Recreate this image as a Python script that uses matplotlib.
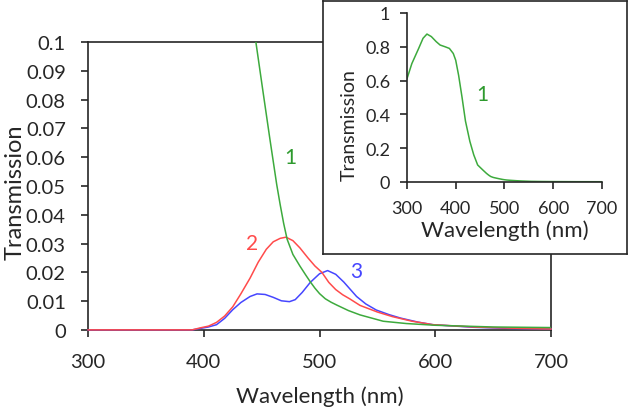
import numpy as np
import matplotlib
matplotlib.use("Agg")
import matplotlib.pyplot as plt
from matplotlib.ticker import FuncFormatter

plt.rcParams['font.family'] = ['Lato', 'DejaVu Sans']

# sample 1 (green), read over the full range (inset and main plot)
wl_1 = [300, 310, 324, 333, 341, 350, 360, 368, 378, 387, 395, 400, 406,
        413, 420, 429, 437, 445, 451, 457, 463, 466, 469, 472, 477, 483,
        488, 492, 496, 500, 505, 510, 515, 525, 535, 555, 575, 600, 650, 700]
tr_1 = [0.61, 0.70, 0.79, 0.85, 0.875, 0.86, 0.83, 0.81, 0.80, 0.79, 0.76,
        0.72, 0.63, 0.50, 0.36, 0.24, 0.16, 0.10, 0.0832, 0.0666, 0.0505,
        0.0435, 0.037, 0.0315, 0.0262, 0.0222, 0.0191, 0.0167, 0.0145,
        0.0126, 0.0108, 0.0096, 0.0086, 0.0067, 0.0052, 0.003, 0.0022,
        0.0016, 0.001, 0.0008]

# sample 2 (red)
wl_2 = [300, 390, 397, 404, 411, 418, 425, 432, 440, 447, 454, 460, 466,
        471, 477, 483, 490, 496, 502, 508, 514, 520, 526, 535, 550, 563,
        580, 598, 633, 665, 700]
tr_2 = [0, 0, 0.0007, 0.0013, 0.0026, 0.0048, 0.008, 0.0125, 0.018, 0.0235,
        0.028, 0.0306, 0.0318, 0.0322, 0.031, 0.0285, 0.025, 0.0222, 0.020,
        0.0165, 0.014, 0.0122, 0.0108, 0.0085, 0.0062, 0.0046, 0.003,
        0.0018, 0.001, 0.0006, 0.0003]

# sample 3 (blue)
wl_3 = [300, 390, 397, 404, 411, 418, 425, 432, 440, 446, 453, 460, 467,
        474, 479, 485, 492, 500, 507, 514, 521, 532, 540, 549, 560, 570,
        585, 598, 633, 665, 700]
tr_3 = [0, 0, 0.0005, 0.001, 0.0018, 0.004, 0.007, 0.0095, 0.0116, 0.0125,
        0.0123, 0.0113, 0.0101, 0.0098, 0.0105, 0.013, 0.0165, 0.0195,
        0.0206, 0.0193, 0.0166, 0.0116, 0.009, 0.0069, 0.0053, 0.0041,
        0.0027, 0.0018, 0.0009, 0.0005, 0.0003]

main_yticks = [0, 0.01, 0.02, 0.03, 0.04, 0.05, 0.06, 0.07, 0.08, 0.09, 0.1]
inset_yticks = [0, 0.2, 0.4, 0.6, 0.8, 1]
xticks = [300, 400, 500, 600, 700]

green = '#3daa3d'
red = '#ff4b4b'
blue = '#4646ff'
dark = '#262626'


def trim(v, pos):
    return ('%g' % v)


def style_axes(ax, size, pad):
    for s in ax.spines.values():
        s.set_color(dark)
        s.set_linewidth(1.2)
    ax.tick_params(direction='out', length=5, width=1.2, colors=dark,
                   labelsize=size, pad=pad)
    ax.yaxis.set_major_formatter(FuncFormatter(trim))


fig = plt.figure(figsize=(6.29, 4.10), dpi=100)

# main plot
ax = fig.add_axes([0.140, 0.193, 0.736, 0.702])
ax.plot(wl_3, tr_3, color=blue, lw=1.1, zorder=3, clip_on=False)
ax.plot(wl_2, tr_2, color=red, lw=1.1, zorder=3, clip_on=False)
ax.plot(wl_1, tr_1, color=green, lw=1.1, zorder=3)
ax.set_xlim(300, 700)
ax.set_ylim(0, 0.1)
ax.set_xticks(xticks)
ax.set_yticks(main_yticks)
style_axes(ax, 14.5, 11)
ax.tick_params(axis='x', pad=12)
ax.set_xlabel('Wavelength (nm)', fontsize=16, color=dark)
ax.xaxis.set_label_coords(0.5, -0.192)
ax.set_ylabel('Transmission', fontsize=17, color=dark)
ax.yaxis.set_label_coords(-0.135, 0.48)
ax.text(475, 0.060, '1', color='#2e9a2e', fontsize=15, ha='center', va='center')
ax.text(442, 0.0302, '2', color=red, fontsize=15, ha='center', va='center')
ax.text(532, 0.0205, '3', color=blue, fontsize=15, ha='center', va='center')

# inset frame
frame = fig.add_axes([0.5135, 0.378, 0.4833, 0.617])
frame.set_xticks([])
frame.set_yticks([])
for s in frame.spines.values():
    s.set_color(dark)
    s.set_linewidth(1.2)

# inset plot
ins = fig.add_axes([0.647, 0.554, 0.310, 0.412])
ins.patch.set_alpha(0)
ins.plot(wl_1, tr_1, color=green, lw=1.1)
ins.set_xlim(300, 700)
ins.set_ylim(0, 1)
ins.set_xticks(xticks)
ins.set_yticks(inset_yticks)
ins.spines['top'].set_visible(False)
ins.spines['right'].set_visible(False)
style_axes(ins, 13, 7)
ins.tick_params(axis='x', pad=8)
ins.set_xlabel('Wavelength (nm)', fontsize=16, color=dark)
ins.xaxis.set_label_coords(0.5, -0.225)
ins.set_ylabel('Transmission', fontsize=14, color=dark)
ins.yaxis.set_label_coords(-0.25, 0.34)
ins.text(454, 0.52, '1', color='#2e9a2e', fontsize=15, ha='center', va='center')

fig.savefig('out.png', dpi=100)
